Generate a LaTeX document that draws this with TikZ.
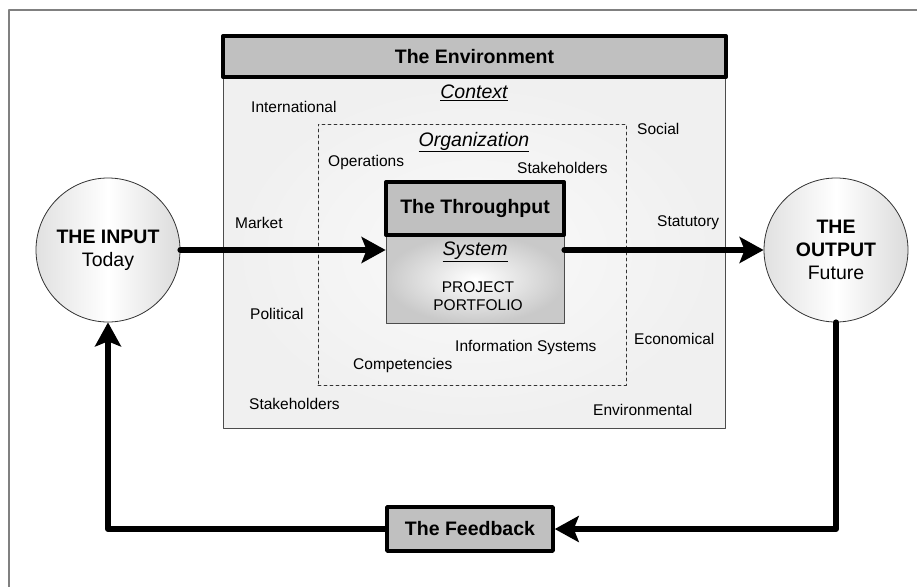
\documentclass[tikz,border=0pt]{standalone}
\usepackage{fontspec}
\setmainfont{Liberation Sans}
\usepackage{tikz}
\usetikzlibrary{calc,arrows.meta,shapes,shapes.geometric,fit}

\begin{document}
\begin{tikzpicture}[line cap=round,line join=round,x=1pt,y=-1pt,scale=1]
\tikzset{>={Stealth[length=24pt,width=26pt,inset=5pt]}}
\def\flowwidth{6pt}
\def\smallsize{\fontsize{15.5}{18}\selectfont}
\def\bigsize{\fontsize{19.5}{23}\selectfont}
\definecolor{headgray}{HTML}{C0C0C0}
\tikzset{
    headbox/.style={draw=black, line width=4pt, fill=headgray, inner sep=0pt, font=\bigsize\bfseries},
    word/.style={anchor=west, inner sep=0pt, font=\smallsize},
    title/.style={inner sep=0pt, font=\bigsize\itshape},
    flow/.style={draw=black, line width=\flowwidth},
    endpoint/.style={circle, draw=black!80, line width=0.8pt, minimum size=144pt, inner sep=0pt,
        left color=gray!24, right color=gray!28, middle color=white, align=center, font=\bigsize}
}
\useasboundingbox (0,0) rectangle (917,586);

% outer frame
\draw[gray, line width=1.2pt] (9,620) -- (9,10) -- (940,10);

% the environment
\node[draw=black!70, line width=0.8pt, minimum width=502pt, minimum height=351pt, inner sep=0pt,
      inner color=gray!4, outer color=gray!12] (ctx) at (474,252.5) {};
\node[headbox, minimum width=503pt, minimum height=41pt] (env) at (474.5,56.5) {The Environment};
\node[title] (context) at (474,93) {\underline{Context}};

\foreach \name/\x/\y in {International/251/107, Social/637/129, Market/235/223, Statutory/657/223,
                         Political/250/314, Economical/634/339, Stakeholders/249/404, Environmental/593/410} {
    \node[word] (c-\name) at (\x,\y) {\name};
}

% the organization
\node[draw=black!80, dashed, line width=0.7pt, minimum width=308pt, minimum height=261pt, inner sep=0pt] (org) at (472,254.5) {};
\node[title] (organization) at (474,142) {\underline{Organization}};
\node[word] (o-ops) at (328,162) {Operations};
\node[word] (o-stake) at (517,168) {Stakeholders};
\node[word] (o-info) at (455,347) {Information Systems};
\node[word] (o-comp) at (353,365) {Competencies};

% the throughput
\node[draw=black!70, line width=0.8pt, minimum width=178pt, minimum height=88pt, inner sep=0pt,
      inner color=white, outer color=gray!42] (sys) at (475,279) {};
\node[headbox, minimum width=178pt, minimum height=53pt] (tp) at (475,208.5) {The Throughput};
\node[title] (system) at (475,252) {\underline{System}};
\node[inner sep=0pt, align=center, font=\smallsize] (portfolio) at (478,296.5) {PROJECT\\PORTFOLIO};

% input and output
\node[endpoint] (in) at (108,250) {\textbf{THE INPUT}\\Today};
\node[endpoint] (out) at (836,250) {\textbf{THE}\\\textbf{OUTPUT}\\Future};

% the feedback
\node[headbox, line width=3.5pt, minimum width=166pt, minimum height=44pt] (fb) at (470,529) {The Feedback};

% arrows
\draw[flow, ->] (in.east) -- (in.east -| sys.west);
\draw[flow, ->] (sys.east |- out.west) -- (out.west);
\draw[flow, ->] (out.south) |- (fb.east);
\draw[flow, ->] (fb.west) -| (in.south);

\end{tikzpicture}
\end{document}
